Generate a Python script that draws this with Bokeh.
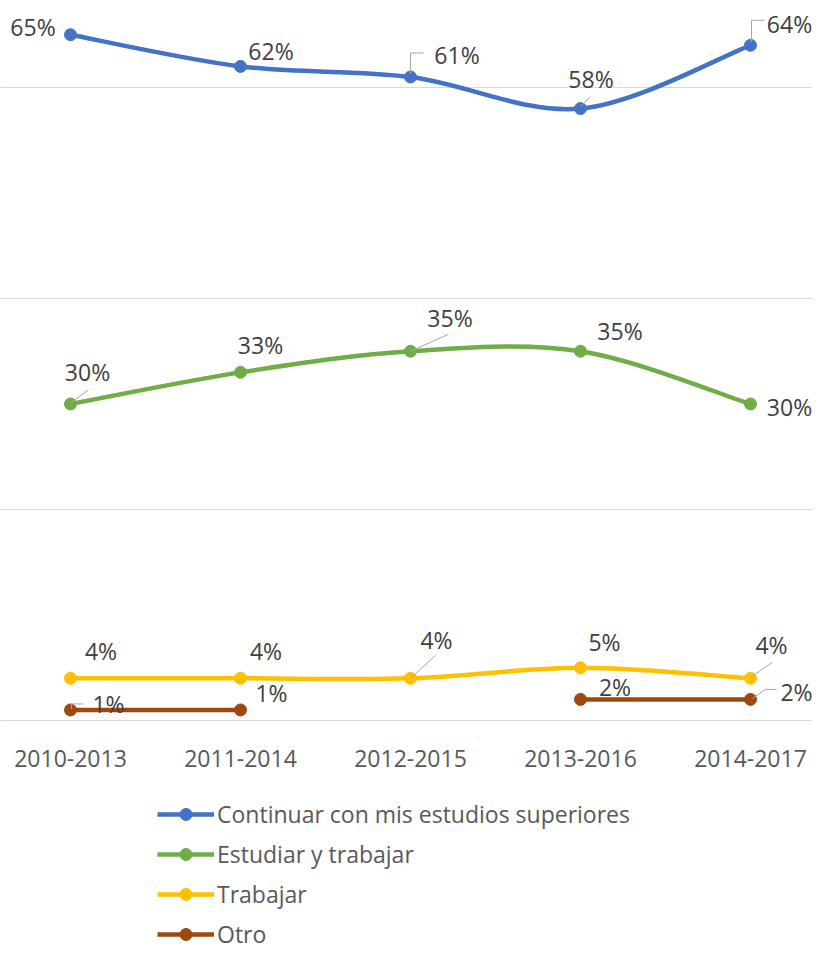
from bokeh.plotting import figure
from bokeh.models import Range1d, Grid, FixedTicker, Legend, LegendItem, ColumnDataSource
from bokeh.core.properties import value
from bokeh.embed import file_html
from bokeh.resources import INLINE

# ---------------- data ----------------
categories = ["2010-2013", "2011-2014", "2012-2015", "2013-2016", "2014-2017"]
continuar = [65, 62, 61, 58, 64]
estudiar_trabajar = [30, 33, 35, 35, 30]
trabajar = [4, 4, 4, 5, 4]
otro = [1, 1, None, 2, 2]
series_names = ["Continuar con mis estudios superiores", "Estudiar y trabajar", "Trabajar", "Otro"]
grid_ticks = [0, 20, 40, 60]

# ---------------- style ----------------
colors = ["#4472C4", "#70AD47", "#FFC000", "#9E480E"]
W, H = 812, 950
PXX = 170.0      # pixels per category
PXY = 10.55      # pixels per percentage point
X0 = 70          # pixel x of first category
ZERO = 720       # pixel y of 0 %
FONT = "Open Sans"
FS = "23px"

# label centre offsets (px, screen y down) and leader-line paths per series
label_offsets = [
    [(-37.5, -7.5), (30.5, -15.5), (46.5, -22), (10.5, -30), (39, -21.5)],
    [(17, -32.5), (20, -27), (39.5, -33.5), (39.5, -20), (39, 3)],
    [(30.5, -27), (25.5, -27), (26, -38), (24, -26), (21, -33)],
    [(38, -5.5), (31, -17), None, (34.5, -12), (46, -7)],
]
leaders = [
    [None, None, [(0, -3), (0, -24), (13, -24)], [(0, -2), (10, -12)], [(1, -3), (1, -25), (14, -25)]],
    [[(0, -1), (18, -14)], None, [(0, 0), (38, -17)], None, None],
    [None, None, [(0, 0), (25, -23)], None, [(0, -1), (22, -16)]],
    [[(1, -1), (1, -6), (13, -6)], None, None, None, [(2, -1), (15, -10), (26, -10)]],
]

p = figure(width=W, height=H, output_backend="svg", toolbar_location=None,
           x_range=Range1d(-X0 / PXX, (W - X0) / PXX),
           y_range=Range1d(-(H - ZERO) / PXY, ZERO / PXY),
           x_axis_location=None, y_axis_location=None, min_border=0)
p.outline_line_color = None
p.background_fill_color = "white"
p.xgrid.grid_line_color = None
p.ygrid.grid_line_color = None
p.add_layout(Grid(dimension=1, ticker=FixedTicker(ticks=grid_ticks),
                  grid_line_color="#D9D9D9", grid_line_width=1))


def bezier_segments(vals):
    out = dict(x0=[], y0=[], x1=[], y1=[], cx0=[], cy0=[], cx1=[], cy1=[])
    n = len(vals)
    for i in range(n - 1):
        if vals[i] is None or vals[i + 1] is None:
            continue
        a = i - 1 if i - 1 >= 0 and vals[i - 1] is not None else i
        d = i + 2 if i + 2 < n and vals[i + 2] is not None else i + 1
        out["x0"].append(i); out["y0"].append(vals[i])
        out["x1"].append(i + 1); out["y1"].append(vals[i + 1])
        out["cx0"].append(i + (i + 1 - a) / 6.0)
        out["cy0"].append(vals[i] + (vals[i + 1] - vals[a]) / 6.0)
        out["cx1"].append(i + 1 - (d - i) / 6.0)
        out["cy1"].append(vals[i + 1] - (vals[d] - vals[i]) / 6.0)
    return out


all_series = [continuar, estudiar_trabajar, trabajar, otro]
legend_items = []
for k, (vals, name, col) in enumerate(zip(all_series, series_names, colors)):
    seg = ColumnDataSource(bezier_segments(vals))
    p.bezier(x0="x0", y0="y0", x1="x1", y1="y1", cx0="cx0", cy0="cy0", cx1="cx1", cy1="cy1",
             source=seg, line_color=col, line_width=4.5, line_cap="round")
    xs = [i for i, v in enumerate(vals) if v is not None]
    ys = [v for v in vals if v is not None]
    sc = p.scatter(x=xs, y=ys, marker="circle", size=12, fill_color=col, line_color=col)
    # legend-only line (a single NaN point draws nothing on the plot)
    ln = p.line(x=[float("nan")], y=[float("nan")], line_color=col, line_width=4.5)
    legend_items.append(LegendItem(label=name, renderers=[ln, sc]))

# leader lines
for k, vals in enumerate(all_series):
    lx, ly = [], []
    for i, v in enumerate(vals):
        path = leaders[k][i]
        if v is None or path is None:
            continue
        lx.append([i + dx / PXX for dx, dy in path])
        ly.append([v - dy / PXY for dx, dy in path])
    if lx:
        p.multi_line(xs=lx, ys=ly, line_color="#A6A6A6", line_width=1)

# data labels
for k, vals in enumerate(all_series):
    tx, ty, tt, ox, oy = [], [], [], [], []
    for i, v in enumerate(vals):
        if v is None:
            continue
        dx, dy = label_offsets[k][i]
        tx.append(i); ty.append(v); tt.append(f"{v}%")
        ox.append(dx); oy.append(dy)
    src = ColumnDataSource(dict(x=tx, y=ty, t=tt, ox=ox, oy=oy))
    p.text(x="x", y="y", text="t", x_offset="ox", y_offset="oy", source=src,
           text_font=value(FONT), text_font_size=value(FS), text_color="#404040",
           text_align="center", text_baseline="alphabetic")

# category labels
csrc = ColumnDataSource(dict(x=list(range(len(categories))), y=[grid_ticks[0]] * len(categories),
                             t=categories))
p.text(x="x", y="y", text="t", source=csrc, y_offset=37.5,
       text_font=value(FONT), text_font_size=value(FS), text_color="#595959",
       text_align="center", text_baseline="alphabetic")

legend = Legend(items=legend_items, location=(157, 0), orientation="vertical",
                glyph_width=57, glyph_height=30, label_standoff=3, spacing=8,
                padding=0, margin=0, border_line_color=None, background_fill_alpha=0,
                label_text_font=FONT, label_text_font_size=FS, label_text_color="#595959")
p.add_layout(legend)

open("out.html", "w").write(file_html(p, INLINE))
